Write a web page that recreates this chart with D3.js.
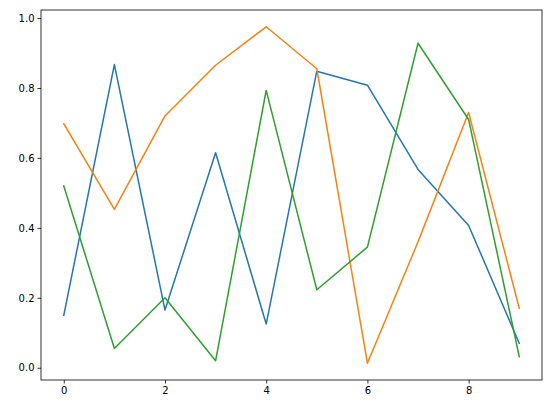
<!DOCTYPE html>
<html>
<head>
<meta charset="utf-8">
<script src="https://cdn.jsdelivr.net/npm/d3@7"></script>
<style>
  body { margin: 0; background: #fff; }
  text { font-family: "DejaVu Sans", sans-serif; }
</style>
</head>
<body>
<div id="chart"></div>
<script>
  // values
  var xs = [0, 1, 2, 3, 4, 5, 6, 7, 8, 9];
  var blue   = [0.15, 0.867, 0.165, 0.615, 0.125, 0.848, 0.808, 0.567, 0.407, 0.07];
  var orange = [0.698, 0.453, 0.72, 0.865, 0.975, 0.855, 0.013, 0.36, 0.73, 0.17];
  var green  = [0.52, 0.055, 0.2, 0.02, 0.793, 0.223, 0.345, 0.928, 0.71, 0.032];
  var series = [blue, orange, green];
  var colors = ["#1f77b4", "#ff7f0e", "#2ca02c"];
  var xTicks = [0, 2, 4, 6, 8];
  var yTicks = [0, 0.2, 0.4, 0.6, 0.8, 1.0];

  var width = 547, height = 413;
  var margin = {left: 41, right: 5, top: 10, bottom: 33};

  var svg = d3.select("#chart").append("svg")
      .attr("width", width).attr("height", height);

  var x = d3.scaleLinear().domain([-0.45, 9.45])
      .range([margin.left, width - margin.right]);
  var y = d3.scaleLinear().domain([-0.035, 1.023])
      .range([height - margin.bottom, margin.top]);

  var line = d3.line()
      .x(function (d, i) { return x(xs[i]); })
      .y(function (d) { return y(d); });

  series.forEach(function (s, i) {
    svg.append("path")
      .attr("d", line(s))
      .attr("fill", "none")
      .attr("stroke", colors[i])
      .attr("stroke-width", 1.5)
      .attr("stroke-linejoin", "round")
      .attr("stroke-linecap", "square");
  });

  // axes, matplotlib look
  var xAxis = svg.append("g")
      .attr("transform", "translate(0," + (height - margin.bottom) + ")")
      .call(d3.axisBottom(x).tickValues(xTicks).tickSize(3.5).tickPadding(3).tickFormat(d3.format("d")));
  var yAxis = svg.append("g")
      .attr("transform", "translate(" + margin.left + ",0)")
      .call(d3.axisLeft(y).tickValues(yTicks).tickSize(3.5).tickPadding(3).tickFormat(d3.format(".1f")));

  [xAxis, yAxis].forEach(function (g) {
    g.select(".domain").remove();
    g.selectAll("text").attr("font-size", 10).attr("fill", "#000")
      .style("font-family", "DejaVu Sans, sans-serif");
    g.selectAll("line").attr("stroke", "#000").attr("stroke-width", 0.8);
  });

  svg.append("rect")
    .attr("x", margin.left).attr("y", margin.top)
    .attr("width", width - margin.left - margin.right)
    .attr("height", height - margin.top - margin.bottom)
    .attr("fill", "none").attr("stroke", "#000").attr("stroke-width", 0.8);
</script>
</body>
</html>
